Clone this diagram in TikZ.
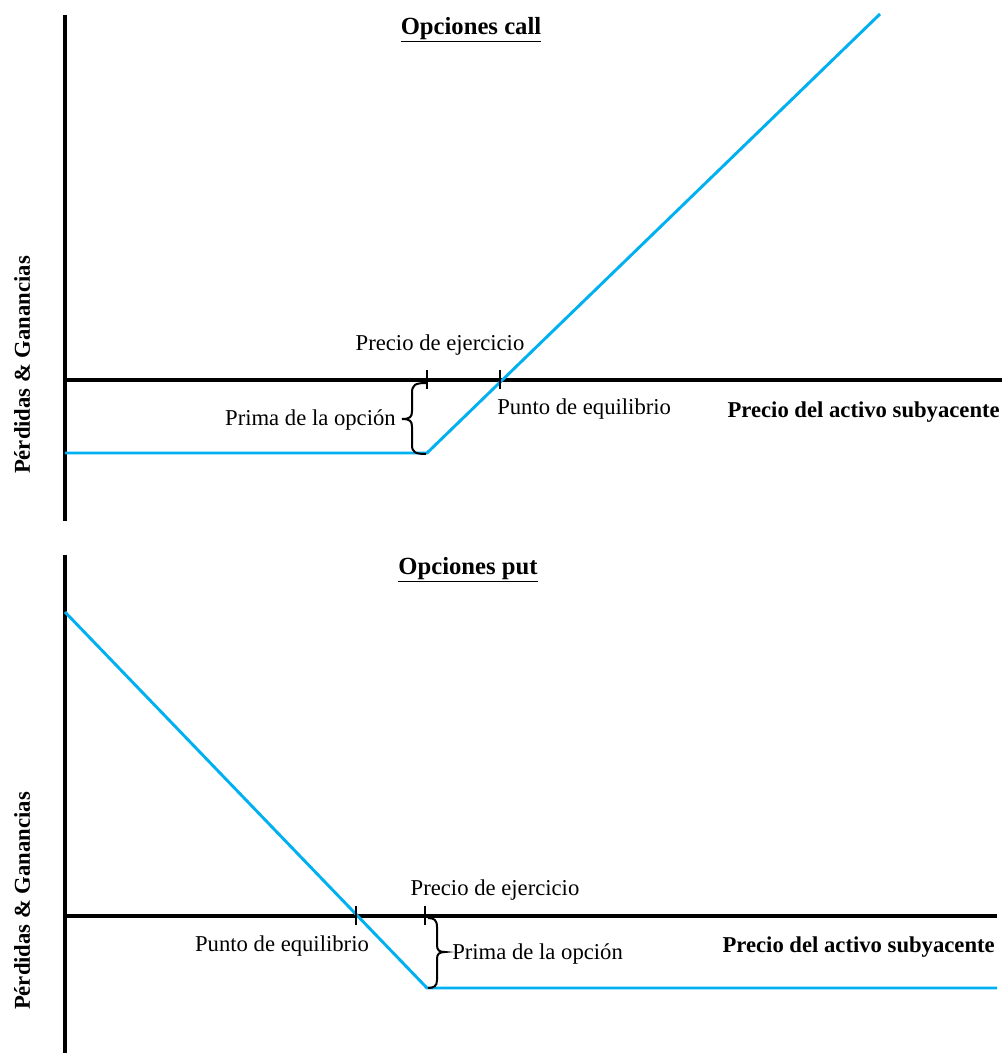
\documentclass[tikz,border=0pt]{standalone}
\usepackage{fontspec}
\setmainfont{Liberation Serif}
\definecolor{payoff}{HTML}{00B0F0}
\begin{document}
\begin{tikzpicture}[x=0.75pt,y=-0.75pt,
  axis/.style={line width=3pt,black},
  curve/.style={line width=2.2pt,payoff,line join=round},
  tick/.style={line width=2pt,black},
  brace/.style={line width=1.5pt,black},
  lbl/.style={font=\fontsize{17}{20}\selectfont,inner sep=0pt},
  blbl/.style={font=\fontsize{17}{20}\selectfont\bfseries,inner sep=0pt},
  ttl/.style={font=\fontsize{18.5}{22}\selectfont\bfseries,inner sep=0pt}]
\useasboundingbox (0,0) rectangle (1005,1053);
% ---------- top: call ----------
\draw[axis] (65,15) -- (65,521);
\draw[axis] (65,380) -- (1002,380);
\draw[curve] (65,453) -- (427,453) -- (880,14);
\draw[tick] (427,370) -- (427,389);
\draw[tick] (500,370) -- (500,389);
\draw[brace] (426,383) .. controls (415,383) and (412,385) .. (412,393) -- (412,411)
  .. controls (412,417) and (410,419) .. (402,419)
  .. controls (410,419) and (412,421) .. (412,427) -- (412,445)
  .. controls (412,452) and (415,454) .. (426,454);
\node[ttl] (t1) at (471,30) {\underline{Opciones call}};
\node[lbl] (pe1) at (440,345) {Precio de ejercicio};
\node[lbl,anchor=west] (eq1) at (497,409) {Punto de equilibrio};
\node[lbl,anchor=east] (pr1) at (396,420) {Prima de la opción};
\node[blbl,anchor=east] (x1) at (1000,412) {Precio del activo subyacente};
\node[blbl,rotate=90] (y1) at (22,365) {Pérdidas \& Ganancias};
% ---------- bottom: put ----------
\draw[axis] (65,555) -- (65,1053);
\draw[axis] (65,916) -- (997,916);
\draw[curve] (65,612) -- (427,988) -- (997,988);
\draw[tick] (356,906) -- (356,925);
\draw[tick] (425,906) -- (425,925);
\draw[brace] (428,918) .. controls (434,918) and (437,920) .. (437,927) -- (437,945)
  .. controls (437,950) and (439,952) .. (445,952)
  .. controls (439,952) and (437,954) .. (437,959) -- (437,980)
  .. controls (437,986) and (434,988) .. (428,988);
\node[ttl] (t2) at (468,570) {\underline{Opciones put}};
\node[lbl] (pe2) at (495,890) {Precio de ejercicio};
\node[lbl] (eq2) at (282,946) {Punto de equilibrio};
\node[lbl,anchor=west] (pr2) at (452,954) {Prima de la opción};
\node[blbl,anchor=east] (x2) at (995,947) {Precio del activo subyacente};
\node[blbl,rotate=90] (y2) at (22,901) {Pérdidas \& Ganancias};
\end{tikzpicture}
\end{document}
